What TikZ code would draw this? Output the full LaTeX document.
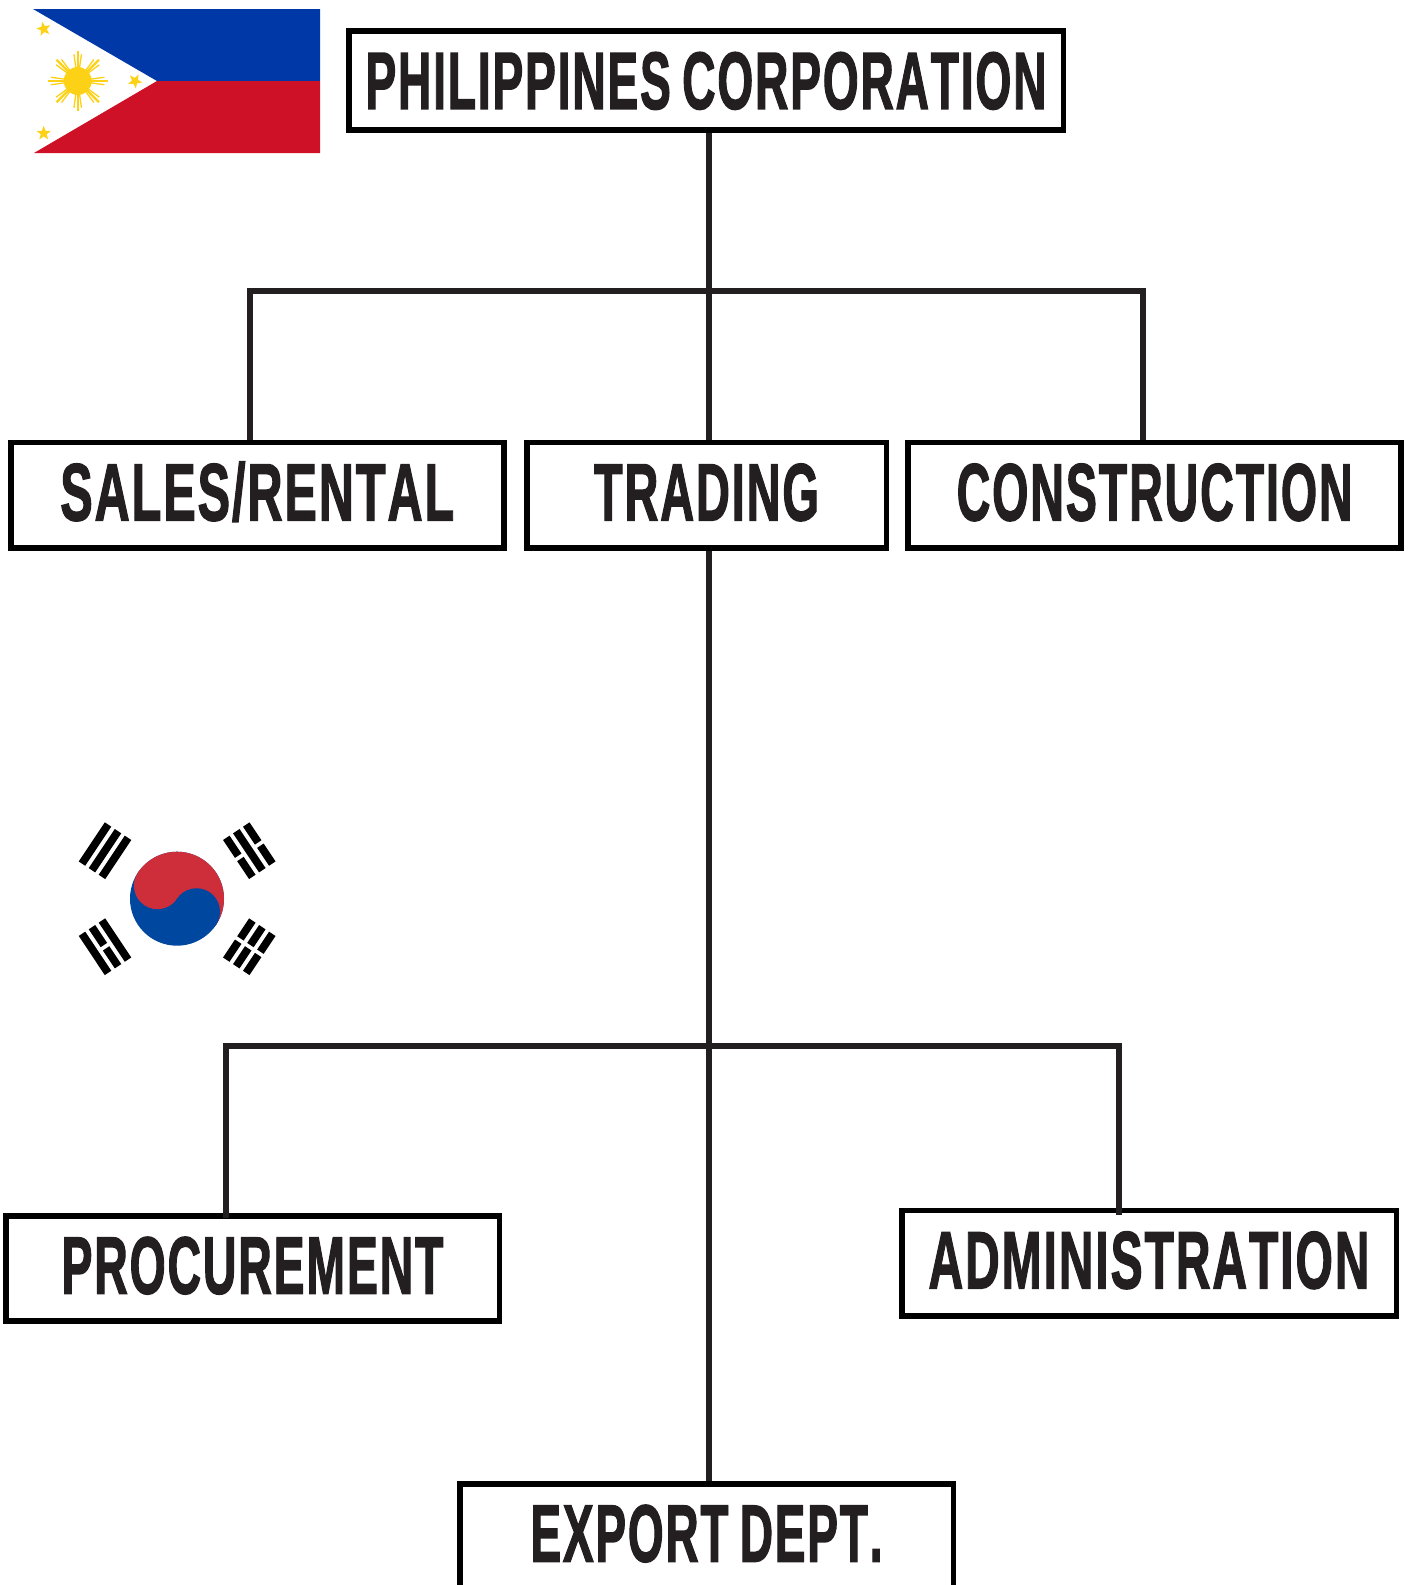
\documentclass[tikz,border=0pt]{standalone}
\usepackage{fontspec}
\usepackage{graphicx}
\usetikzlibrary{shapes.geometric}
\newfontfamily\deptfont[UprightFont=* Bold,FakeBold=2,LetterSpace=4,Kerning=Off]{Liberation Sans}
\definecolor{inkdark}{HTML}{231F20}
\definecolor{phblue}{HTML}{0038A8}
\definecolor{phred}{HTML}{CE1126}
\definecolor{phyellow}{HTML}{FCD116}
\definecolor{krred}{HTML}{CD2E3A}
\definecolor{krblue}{HTML}{0047A0}
\newcommand{\deptlabel}[2]{\resizebox{#1pt}{\height}{\deptfont\fontsize{81}{81}\selectfont #2}}
\newcommand{\solidbar}[1]{\draw[krbar] (-23.5,#1) -- (23.5,#1);}
\newcommand{\splitbar}[1]{\draw[krbar] (-23.5,#1) -- (-2,#1) (2,#1) -- (23.5,#1);}
\begin{document}
\begin{tikzpicture}
      [%%%%%%%%%%%%%%%%%%%%%%%%%%%%%%
      x=1pt,y=-1pt,
      deptbox/.style={rectangle,draw=black,line width=5.5pt,fill=white,inner sep=0pt,minimum height=105.2pt,text=inkdark,text height=58pt,text depth=8pt},
      link/.style={draw=inkdark,line width=5.5pt},
      flagstar/.style={star,star points=5,star point ratio=2.4,fill=phyellow,inner sep=0pt,minimum size=15pt},
      krbar/.style={draw=black,line width=7.8pt},
      ]%%%%%%%%%%%%%%%%%%%%%%%%%%%%%%

      \clip (0,0) rectangle (1408,1585);

      % boxes
      \node[deptbox,minimum width=714.5pt,minimum height=99.1pt,text height=60pt,text depth=3pt] (philippines) at (706,80.3) {\deptlabel{681}{PHILIPPINES\hspace{20pt}CORPORATION}};
      \node[deptbox,minimum width=493.1pt] (sales) at (257.3,495.3) {\deptlabel{394}{SALES/RENTAL}};
      \node[deptbox,minimum width=359.5pt] (trading) at (706.5,495.3) {\deptlabel{225}{TRADING}};
      \node[deptbox,minimum width=493pt] (construction) at (1154.7,495.3) {\deptlabel{396}{CONSTRUCTION}};
      \node[deptbox,minimum width=493.5pt] (procurement) at (252.5,1268.5) {\deptlabel{382}{PROCUREMENT}};
      \node[deptbox,minimum width=494.5pt] (administration) at (1149,1263.2) {\deptlabel{441}{ADMINISTRATION}};
      \node[deptbox,minimum width=493.5pt] (export) at (706.5,1536.5) {\deptlabel{352}{EXPORT\hspace{20pt}DEPT.}};

      % connectors
      \coordinate (topbus) at (709,291);
      \coordinate (salesfoot) at (250,440);
      \coordinate (constructionfoot) at (1143,440);
      \coordinate (lowbus) at (709,1046);
      \coordinate (procurementfoot) at (226,1218);
      \coordinate (administrationfoot) at (1119,1215);
      \draw[link] (topbus |- philippines.south) -- (topbus |- trading.north);
      \draw[link] (salesfoot) |- (topbus) -| (constructionfoot);
      \draw[link] (lowbus |- trading.south) -- (lowbus |- export.north);
      \draw[link] (procurementfoot) |- (lowbus) -| (administrationfoot);

      % philippine flag
      \fill[phblue] (33,9) -- (320,9) -- (320,81) -- (157,81) -- cycle;
      \fill[phred] (34,153) -- (320,153) -- (320,81) -- (157,81) -- cycle;
      \fill[phyellow] (77.7,81) circle (14);
      \foreach \a in {0,45,...,315}{
        \draw[phyellow,line width=2.4pt] (77.7,81) ++(\a:12) -- ++(\a:18);
        \draw[phyellow,line width=1.3pt] (77.7,81) ++(\a+8:12) -- ++(\a+8:15);
        \draw[phyellow,line width=1.3pt] (77.7,81) ++(\a-8:12) -- ++(\a-8:15);
      }
      \node[flagstar,rotate=12] (startop) at (43.7,29) {};
      \node[flagstar,rotate=-30] (starright) at (135,81) {};
      \node[flagstar,rotate=0] (starlow) at (43.7,133.3) {};

      % korean flag
      \fill[krblue] (177,898.7) circle (47);
      \fill[krred] (177,898.7) ++(213.69:47) arc (213.69:393.69:47) -- cycle;
      \fill[krred] (177,898.7) ++(213.69:23.5) circle (23.5);
      \fill[krblue] (177,898.7) ++(33.69:23.5) circle (23.5);

      \begin{scope}[shift={(105,850.7)},rotate=56.31]
        \solidbar{-12}
        \solidbar{0}
        \solidbar{12}
      \end{scope}
      \begin{scope}[shift={(249.3,850.7)},rotate=-56.31]
        \splitbar{-12}
        \solidbar{0}
        \splitbar{12}
      \end{scope}
      \begin{scope}[shift={(105,946.7)},rotate=-56.31]
        \solidbar{-12}
        \splitbar{0}
        \solidbar{12}
      \end{scope}
      \begin{scope}[shift={(249.3,946.7)},rotate=56.31]
        \splitbar{-12}
        \splitbar{0}
        \splitbar{12}
      \end{scope}
    \end{tikzpicture}
\end{document}
